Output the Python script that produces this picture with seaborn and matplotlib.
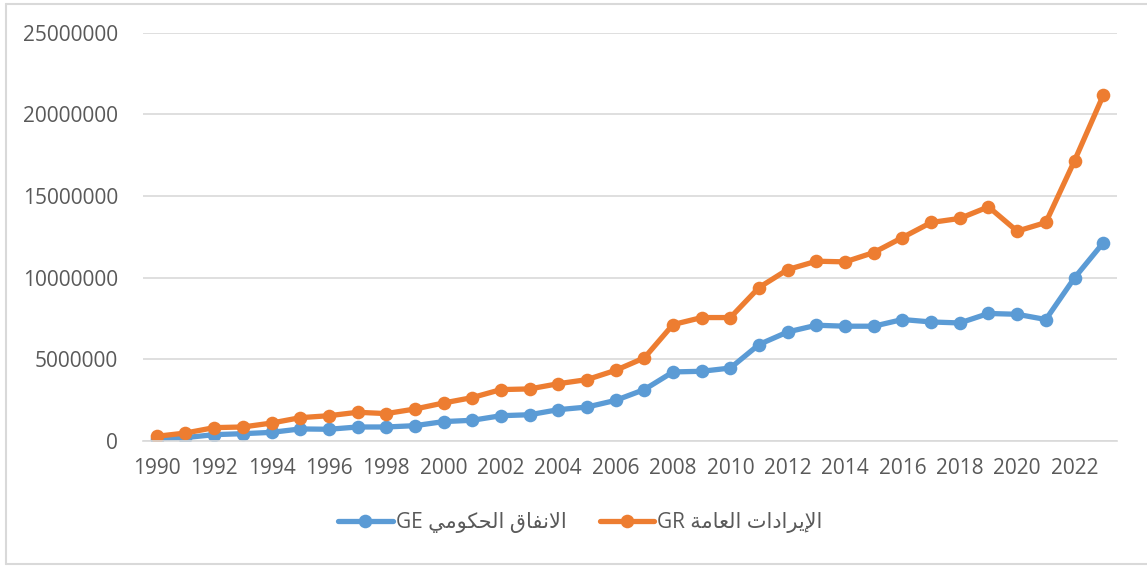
import numpy as np
import pandas as pd
import seaborn as sns
import matplotlib
matplotlib.use("Agg")
import matplotlib.pyplot as plt
from matplotlib.lines import Line2D
from matplotlib.ticker import FuncFormatter

years = list(range(1990, 2024))
# GE - government expenditure
ge = [0.15, 0.21, 0.39, 0.45, 0.53, 0.74, 0.72, 0.86, 0.86, 0.94,
      1.19, 1.27, 1.55, 1.61, 1.92, 2.08, 2.49, 3.15, 4.23, 4.27,
      4.47, 5.91, 6.68, 7.09, 7.03, 7.03, 7.44, 7.29, 7.23, 7.81,
      7.76, 7.44, 9.99, 12.13]
# GR - public revenues
gr = [0.29, 0.49, 0.82, 0.86, 1.10, 1.43, 1.55, 1.76, 1.68, 1.96,
      2.33, 2.66, 3.15, 3.19, 3.51, 3.76, 4.33, 5.09, 7.13, 7.56,
      7.56, 9.40, 10.50, 11.01, 10.97, 11.54, 12.46, 13.38, 13.63, 14.34,
      12.85, 13.38, 17.16, 21.16]
ge_label = ("GE", "الانفاق الحكومي")
gr_label = ("GR", "الإيرادات العامة")
yticks = [0, 5000000, 10000000, 15000000, 20000000, 25000000]
xticks = list(range(1990, 2023, 2))

# matplotlib has no arabic shaping, so pick presentation forms by hand
FORMS = {  # isolated, final, initial, medial
  'ا': (0xFE8D, 0xFE8E), 'إ': (0xFE87, 0xFE88),
  'و': (0xFEED, 0xFEEE), 'ر': (0xFEAD, 0xFEAE),
  'د': (0xFEA9, 0xFEAA), 'ة': (0xFE93, 0xFE94),
  'ل': (0xFEDD, 0xFEDE, 0xFEDF, 0xFEE0), 'ن': (0xFEE5, 0xFEE6, 0xFEE7, 0xFEE8),
  'ف': (0xFED1, 0xFED2, 0xFED3, 0xFED4), 'ق': (0xFED5, 0xFED6, 0xFED7, 0xFED8),
  'ح': (0xFEA1, 0xFEA2, 0xFEA3, 0xFEA4), 'ك': (0xFED9, 0xFEDA, 0xFEDB, 0xFEDC),
  'م': (0xFEE1, 0xFEE2, 0xFEE3, 0xFEE4), 'ي': (0xFEF1, 0xFEF2, 0xFEF3, 0xFEF4),
  'ت': (0xFE95, 0xFE96, 0xFE97, 0xFE98), 'ع': (0xFEC9, 0xFECA, 0xFECB, 0xFECC),
}
LAM_ALEF = {'ا': (0xFEFB, 0xFEFC), 'إ': (0xFEF9, 0xFEFA)}

def shape_word(word):
  toks = []
  i = 0
  while i < len(word):
    if word[i] == 'ل' and i + 1 < len(word) and word[i+1] in LAM_ALEF:
      toks.append(LAM_ALEF[word[i+1]]); i += 2
    else:
      toks.append(FORMS[word[i]]); i += 1
  out = ""
  for k, f in enumerate(toks):
    prev_joins = k > 0 and len(toks[k-1]) == 4
    next_joins = len(f) == 4 and k + 1 < len(toks)
    if prev_joins and next_joins: c = f[3]
    elif prev_joins: c = f[1]
    elif next_joins: c = f[2]
    else: c = f[0]
    out += chr(c)
  return out

def visual(label):
  code, arabic = label
  words = arabic.split()
  return code + " " + " ".join(shape_word(w)[::-1] for w in reversed(words))

sns.set_theme(style="white")
plt.rcParams['font.family'] = ['Open Sans', 'DejaVu Sans']
txt = "#595959"
blue, orange = "#5b9bd5", "#ed7d31"

df = pd.DataFrame({
  "year": years * 2,
  "value": np.array(ge + gr) * 1e6,
  "series": [visual(ge_label)] * len(years) + [visual(gr_label)] * len(years),
})

fig = plt.figure(figsize=(11.47, 5.66), dpi=100)
ax = fig.add_axes([0.1247, 0.2208, 0.8491, 0.7214])
sns.lineplot(data=df, x="year", y="value", hue="series",
             palette=[blue, orange], marker="o", markersize=9.8,
             markeredgewidth=0, linewidth=3.8, ax=ax, legend=False)

ax.set_xlim(1989.52, 2023.48)
ax.set_ylim(0, 25000000)
ax.set_yticks(yticks)
ax.set_xticks(xticks)
ax.yaxis.set_major_formatter(FuncFormatter(lambda v, p: "%d" % v))
ax.grid(axis="y", color="#d9d9d9", linewidth=1.2)
ax.set_axisbelow(True)
for s in ["top", "right", "left"]:
  ax.spines[s].set_visible(False)
ax.spines["bottom"].set_color("#d9d9d9")
ax.spines["bottom"].set_linewidth(1.2)
ax.tick_params(axis="both", length=0, labelsize=15, labelcolor=txt)
ax.tick_params(axis="y", pad=18)
ax.tick_params(axis="x", pad=12)
ax.set_xlabel("")
ax.set_ylabel("")

handles = [Line2D([], [], color=c, linewidth=3.8, marker="o", markersize=9.8,
                  markeredgewidth=0) for c in (blue, orange)]
fig.legend(handles, [visual(ge_label), visual(gr_label)], loc="center",
           bbox_to_anchor=(0.506, 0.076), ncol=2, frameon=False,
           fontsize=15, labelcolor=txt, handlelength=2.6, handletextpad=0.15,
           columnspacing=1.6)

# chart border (light gray, right side runs off the picture)
for xs, ys in [([6, 1150], [562, 562]), ([6, 6], [2, 562]), ([6, 1150], [2, 2])]:
  fig.add_artist(Line2D(np.array(xs) / 1147, np.array(ys) / 566,
                        color="#d9d9d9", linewidth=1.5))

fig.savefig("out.png", dpi=100)
